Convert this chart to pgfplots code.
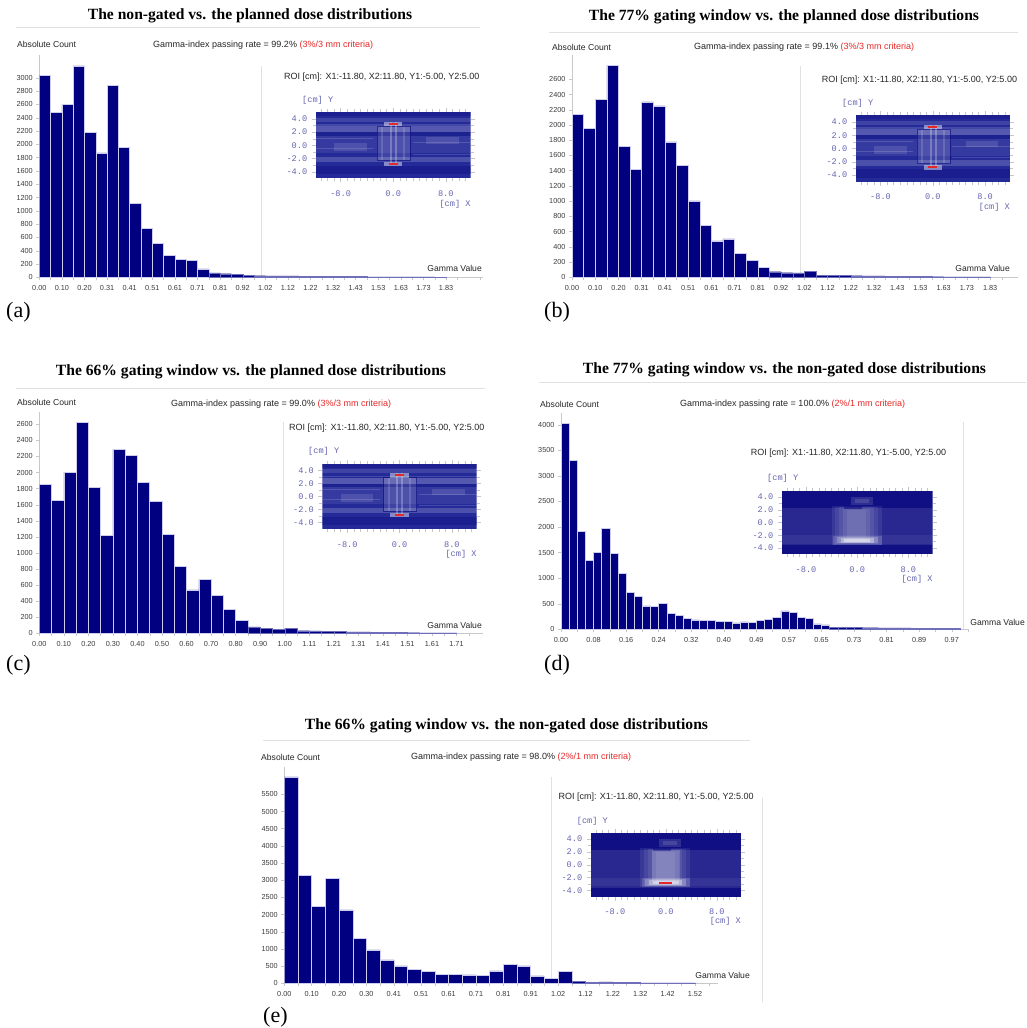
\documentclass[border=0pt]{standalone}
\usepackage{fontspec}
\setmainfont{Liberation Sans}
\newfontfamily\serif{Liberation Serif}
\newfontfamily\mono{Liberation Mono}
\usepackage{pgfplots}
\pgfplotsset{compat=1.18}
\definecolor{navy}{RGB}{0,0,128}
\definecolor{baredge}{RGB}{205,205,235}
\definecolor{tailedge}{RGB}{110,110,185}
\definecolor{axgray}{RGB}{200,200,200}
\definecolor{gline}{RGB}{225,225,225}
\definecolor{tlab}{RGB}{60,60,60}
\definecolor{critred}{RGB}{230,40,40}
\definecolor{insetblue}{RGB}{100,100,175}
\definecolor{heatbase}{RGB}{36,42,152}
\definecolor{heatdeep}{RGB}{16,16,132}

\pgfplotsset{
 hist/.style={scale only axis, anchor=south west, ybar, bar width=1,
   axis x line*=bottom, axis y line*=left,
   axis line style={draw=axgray, line width=0.5pt},
   xmin=0, ymin=0,
   tick align=outside, major tick length=3pt, minor tick length=3pt,
   tick style={draw=axgray, line width=0.4pt},
   tick label style={font=\fontsize{7.3}{8}\selectfont, text=tlab},
   xticklabel style={yshift=-2pt},
   scaled y ticks=false,
   /pgf/number format/1000 sep={},
   /pgf/number format/assume math mode=true,
 },
 bigbar/.style={fill=navy, draw=baredge, line width=0.5pt, bar shift=0pt},
 tailbar/.style={fill=navy, draw=tailedge, line width=0.25pt, bar shift=0pt},
 inset/.style={scale only axis, anchor=south west, xmin=-11.8, xmax=11.8, ymin=-5, ymax=5,
   axis line style={draw=none},
   xtick={-8,0,8}, xticklabels={-8.0,0.0,8.0},
   ytick={-4,-2,0,2,4}, yticklabels={-4.0,-2.0,0.0,2.0,4.0},
   minor xtick={-11,-10,-9,-7,-6,-5,-4,-3,-2,-1,1,2,3,4,5,6,7,9,10,11},
   minor ytick={-3,-1,1,3},
   tick pos=both, tick align=outside, major tick length=4pt, minor tick length=3pt,
   tick style={draw=gray!45, line width=0.4pt},
   tick label style={font=\mono\fontsize{8.6}{9}\selectfont, text=insetblue},
   xticklabel style={yshift=-5pt}, yticklabel style={xshift=-1pt},
 },
}
\newcommand\hrect[6]{\addplot[draw=none, fill=#2, fill opacity=#1, forget plot] coordinates {(#3,#5) (#4,#5) (#4,#6) (#3,#6)} --cycle;}
\newcommand\streaky{%
\hrect{1}{heatbase}{-11.8}{11.8}{-5}{5}
\hrect{.22}{white}{-11.8}{11.8}{2.0}{2.9}
\hrect{.12}{white}{-11.8}{11.8}{3.6}{4.2}
\hrect{.18}{white}{-11.8}{11.8}{-2.6}{-1.8}
\hrect{.08}{white}{-11.8}{11.8}{-1.2}{1.4}
\hrect{.45}{heatdeep}{-11.8}{11.8}{-4.4}{-3.1}
\hrect{.35}{heatdeep}{-11.8}{11.8}{4.4}{5}
\hrect{.3}{heatdeep}{-11.8}{11.8}{1.4}{2.0}
\hrect{.15}{white}{-11.8}{11.8}{3.0}{3.2}
\hrect{.15}{white}{-11.8}{-3}{1.0}{1.15}
\hrect{.15}{white}{3}{11.8}{0.3}{0.45}
\hrect{.15}{white}{-11.8}{-3}{-0.6}{-0.45}
\hrect{.15}{white}{3}{11.8}{-1.45}{-1.3}
\hrect{.12}{white}{-9}{-4}{-0.8}{0.4}
\hrect{.12}{white}{5}{10}{0.2}{1.2}
\hrect{.12}{white}{-2.4}{2.6}{-2.3}{2.9}
\addplot[draw=heatdeep, draw opacity=.7, line width=0.7pt, forget plot] coordinates {(-2.4,-2.3) (2.6,-2.3) (2.6,2.9) (-2.4,2.9)} --cycle;
\hrect{.15}{white}{-1.8}{-1.5}{-2.2}{2.8}
\hrect{.15}{white}{1.5}{1.8}{-2.2}{2.8}
\hrect{.25}{white}{-0.5}{-0.2}{-3}{3.6}
\hrect{.25}{white}{0.3}{0.6}{-3}{3.6}
\hrect{.45}{white}{-1.4}{1.4}{2.9}{3.6}
\hrect{.45}{white}{-1.4}{1.4}{-3.2}{-2.5}
\hrect{1}{critred}{-0.7}{0.7}{3.15}{3.45}
\hrect{1}{critred}{-0.7}{0.7}{-3.0}{-2.7}
}
\newcommand\glow{%
\hrect{1}{heatdeep}{-11.8}{11.8}{-5}{5}
\hrect{.10}{white}{-11.8}{11.8}{-3.6}{2.3}
\hrect{.06}{white}{-11.8}{11.8}{-3.4}{-2.0}
\hrect{.08}{white}{-4}{3.8}{-3.5}{2.6}
\hrect{.08}{white}{-3.4}{3.2}{-3.4}{2.5}
\hrect{.08}{white}{-2.8}{2.6}{-3.3}{2.4}
\hrect{.08}{white}{-2.2}{2.0}{-3.2}{2.2}
\hrect{.08}{white}{-1.6}{1.4}{-3.1}{2.0}
\hrect{.15}{white}{-3.8}{3.8}{-3.5}{-2.1}
\hrect{.2}{white}{-3.2}{3.2}{-3.3}{-2.3}
\hrect{.3}{white}{-2.6}{2.6}{-3.15}{-2.45}
\hrect{.4}{white}{-2.0}{2.0}{-3.0}{-2.6}
\hrect{.6}{heatdeep}{-2.0}{0.8}{2.2}{2.7}
\hrect{.12}{white}{-1}{2.4}{2.8}{4.0}
\hrect{.12}{white}{-0.4}{1.8}{3.1}{3.7}
}
\begin{document}
\begin{tikzpicture}
\useasboundingbox (0pt,0pt) rectangle (1026pt,-1028pt);
\fill[white] (0pt,0pt) rectangle (1026pt,-1028pt);
% ---------- titles ----------
\begin{scope}[every node/.style={font=\serif\bfseries\fontsize{15.6}{18}\selectfont, inner sep=0}]
\node at (250pt,-16pt) {The non-gated vs. the planned dose distributions};
\node at (784pt,-17pt) {The 77\% gating window vs. the planned dose distributions};
\node at (251pt,-372pt) {The 66\% gating window vs. the planned dose distributions};
\node at (784.5pt,-370pt) {The 77\% gating window vs. the non-gated dose distributions};
\node at (506.5pt,-726pt) {The 66\% gating window vs. the non-gated dose distributions};
\end{scope}
\begin{scope}[draw=gline, line width=0.8pt]
\draw (16pt,-27pt) -- (480pt,-27pt);
\draw (549pt,-32pt) -- (1018pt,-32pt);
\draw (16pt,-388pt) -- (485pt,-388pt);
\draw (539pt,-382pt) -- (1026pt,-382pt);
\draw (263pt,-740pt) -- (750pt,-740pt);
\draw (762pt,-798pt) -- (762pt,-1002pt);
\end{scope}
% ---------- small labels ----------
\begin{scope}[every node/.style={font=\fontsize{8.6}{10}\selectfont, inner sep=0, text=black!85}]
\node[anchor=west] at (17pt,-44pt) {Absolute Count};
\node[anchor=west] at (552pt,-47pt) {Absolute Count};
\node[anchor=west] at (17pt,-402pt) {Absolute Count};
\node[anchor=west] at (540pt,-404pt) {Absolute Count};
\node[anchor=west] at (261pt,-757pt) {Absolute Count};
\node[anchor=east] at (482pt,-268pt) {Gamma Value};
\node[anchor=east] at (1010pt,-268pt) {Gamma Value};
\node[anchor=east] at (482pt,-625pt) {Gamma Value};
\node[anchor=east] at (1025pt,-622pt) {Gamma Value};
\node[anchor=east] at (750pt,-975pt) {Gamma Value};
\end{scope}
\begin{scope}[every node/.style={font=\fontsize{9}{10}\selectfont, inner sep=0, text=black!85}]
\node[anchor=west] at (153pt,-45pt) {Gamma-index passing rate = 99.2\% {\color{critred}(3\%/3 mm criteria)}};
\node[anchor=west] at (694pt,-47pt) {Gamma-index passing rate = 99.1\% {\color{critred}(3\%/3 mm criteria)}};
\node[anchor=west] at (171pt,-404pt) {Gamma-index passing rate = 99.0\% {\color{critred}(3\%/3 mm criteria)}};
\node[anchor=west] at (680pt,-404pt) {Gamma-index passing rate = 100.0\% {\color{critred}(2\%/1 mm criteria)}};
\node[anchor=west] at (411pt,-757pt) {Gamma-index passing rate = 98.0\% {\color{critred}(2\%/1 mm criteria)}};
\node[anchor=west] at (284pt,-77pt) {ROI [cm]: X1:-11.80, X2:11.80, Y1:-5.00, Y2:5.00};
\node[anchor=west] at (821.7pt,-80pt) {ROI [cm]: X1:-11.80, X2:11.80, Y1:-5.00, Y2:5.00};
\node[anchor=west] at (289pt,-428.3pt) {ROI [cm]: X1:-11.80, X2:11.80, Y1:-5.00, Y2:5.00};
\node[anchor=west] at (750.7pt,-452.7pt) {ROI [cm]: X1:-11.80, X2:11.80, Y1:-5.00, Y2:5.00};
\node[anchor=west] at (558.3pt,-796.7pt) {ROI [cm]: X1:-11.80, X2:11.80, Y1:-5.00, Y2:5.00};
\end{scope}
\begin{scope}[every node/.style={font=\mono\fontsize{8.6}{9}\selectfont, inner sep=0, text=insetblue}]
\node[anchor=west] at (302pt,-100pt) {[cm] Y};
\node[anchor=east] at (470.7pt,-204pt) {[cm] X};
\node[anchor=west] at (842pt,-103pt) {[cm] Y};
\node[anchor=east] at (1010pt,-207pt) {[cm] X};
\node[anchor=west] at (308pt,-451.7pt) {[cm] Y};
\node[anchor=east] at (476.7pt,-554pt) {[cm] X};
\node[anchor=west] at (767pt,-478.7pt) {[cm] Y};
\node[anchor=east] at (932.7pt,-579pt) {[cm] X};
\node[anchor=west] at (576.7pt,-821pt) {[cm] Y};
\node[anchor=east] at (741pt,-921.7pt) {[cm] X};
\end{scope}
\begin{scope}[every node/.style={font=\serif\fontsize{22}{24}\selectfont, inner sep=0, anchor=west}]
\node at (6pt,-312pt) {(a)};
\node at (544pt,-312pt) {(b)};
\node at (6pt,-665pt) {(c)};
\node at (544pt,-665pt) {(d)};
\node at (263pt,-1017pt) {(e)};
\end{scope}
% ---------- (a) ----------
\begin{axis}[hist, at={(39.3pt,-277.3pt)}, width=443.7pt, height=222.3pt, xmax=39.27, ymax=3343,
  ytick={0,200,...,3000},
  xtick={0,2,...,36}, minor xtick={1,3,...,39},
  xticklabels={0.00,0.10,0.20,0.31,0.41,0.51,0.61,0.71,0.81,0.92,1.02,1.12,1.22,1.32,1.43,1.53,1.63,1.73,1.83}]
\addplot[sharp plot, draw=gline, line width=0.8pt, forget plot] coordinates {(19.62,0) (19.62,3177)};
\addplot[bigbar] coordinates {(0.5,3040) (1.5,2480) (2.5,2600) (3.5,3180) (4.5,2175) (5.5,1870) (6.5,2885) (7.5,1950) (8.5,1107) (9.5,731) (10.5,511) (11.5,330) (12.5,270) (13.5,250) (14.5,125)};
\addplot[tailbar] coordinates {(15.5,68) (16.5,55) (17.5,42) (18.5,32) (19.5,25) (20.5,22) (21.5,21) (22.5,20) (23.5,19) (24.5,18) (25.5,17) (26.5,16) (27.5,15) (28.5,15) (29.5,8) (30.5,7) (31.5,6) (32.5,6) (33.5,5) (34.5,5) (35.5,4)};
\end{axis}
\begin{axis}[inset, at={(315.7pt,-178.3pt)}, width=155pt, height=66pt]
\streaky
\end{axis}
% ---------- (b) ----------
\begin{axis}[hist, at={(572pt,-277.3pt)}, width=446pt, height=222.3pt, xmax=38.4, ymax=2919,
  ytick={0,200,...,2600},
  xtick={0,2,...,36}, minor xtick={1,3,...,37},
  xticklabels={0.00,0.10,0.20,0.31,0.41,0.51,0.61,0.71,0.81,0.92,1.02,1.12,1.22,1.32,1.43,1.53,1.63,1.73,1.83}]
\addplot[sharp plot, draw=gline, line width=0.8pt, forget plot] coordinates {(19.7,0) (19.7,2775)};
\addplot[bigbar] coordinates {(0.5,2140) (1.5,1956) (2.5,2337) (3.5,2783) (4.5,1720) (5.5,1418) (6.5,2302) (7.5,2250) (8.5,1777) (9.5,1466) (10.5,1002) (11.5,678) (12.5,477) (13.5,503) (14.5,311) (15.5,223) (16.5,131)};
\addplot[tailbar] coordinates {(17.5,74) (18.5,61) (19.5,57) (20.5,79) (21.5,30) (22.5,26) (23.5,24) (24.5,22) (25.5,20) (26.5,18) (27.5,16) (28.5,15) (29.5,10) (30.5,9) (31.5,8) (32.5,7) (33.5,6) (34.5,5) (35.5,4)};
\end{axis}
\begin{axis}[inset, at={(855.7pt,-181.7pt)}, width=154.3pt, height=66.4pt]
\streaky
\end{axis}
% ---------- (c) ----------
\begin{axis}[hist, at={(39.3pt,-633.3pt)}, width=443.7pt, height=221.6pt, xmax=36.16, ymax=2757,
  ytick={0,200,...,2600},
  xtick={0,2,...,34}, minor xtick={1,3,...,35},
  xticklabels={0.00,0.10,0.20,0.30,0.40,0.50,0.60,0.70,0.80,0.90,1.00,1.11,1.21,1.31,1.41,1.51,1.61,1.71}]
\addplot[sharp plot, draw=gline, line width=0.8pt, forget plot] coordinates {(19.89,0) (19.89,2629)};
\addplot[bigbar] coordinates {(0.5,1853) (1.5,1658) (2.5,2002) (3.5,2624) (4.5,1812) (5.5,1215) (6.5,2289) (7.5,2218) (8.5,1874) (9.5,1638) (10.5,1231) (11.5,837) (12.5,539) (13.5,667) (14.5,468) (15.5,294) (16.5,162)};
\addplot[tailbar] coordinates {(17.5,79) (18.5,62) (19.5,50) (20.5,62) (21.5,33) (22.5,29) (23.5,25) (24.5,25) (25.5,18) (26.5,17) (27.5,13) (28.5,11) (29.5,10) (30.5,7) (31.5,6) (32.5,5) (33.5,4)};
\end{axis}
\begin{axis}[inset, at={(322.3pt,-529pt)}, width=154.4pt, height=65pt]
\streaky
\end{axis}
% ---------- (d) ----------
\begin{axis}[hist, at={(561pt,-629.3pt)}, width=407.3pt, height=216pt, xmax=50.04, ymax=4223,
  ytick={0,500,...,4000},
  xtick={0,4,...,48}, minor xtick={2,6,...,50},
  xticklabels={0.00,0.08,0.16,0.24,0.32,0.40,0.49,0.57,0.65,0.73,0.81,0.89,0.97}]
\addplot[sharp plot, draw=gline, line width=0.8pt, forget plot] coordinates {(49.4,0) (49.4,4059)};
\addplot[bigbar] coordinates {(0.5,4020) (1.5,3303) (2.5,1915) (3.5,1355) (4.5,1498) (5.5,1980) (6.5,1485) (7.5,1094) (8.5,723) (9.5,638) (10.5,456) (11.5,443) (12.5,508) (13.5,306) (14.5,274) (15.5,221) (16.5,182) (17.5,170) (18.5,170) (19.5,150) (20.5,156) (21.5,124) (22.5,143) (23.5,130) (24.5,170) (25.5,195) (26.5,235) (27.5,358) (28.5,332) (29.5,228) (30.5,208) (31.5,104) (32.5,85)};
\addplot[tailbar] coordinates {(33.5,36) (34.5,34) (35.5,33) (36.5,33) (37.5,32) (38.5,32) (39.5,30) (40.5,30) (41.5,29) (42.5,27) (43.5,25) (44.5,23) (45.5,20) (46.5,18) (47.5,16) (48.5,14)};
\end{axis}
\begin{axis}[inset, at={(781.7pt,-554.3pt)}, width=151pt, height=63.6pt]
\glow
\end{axis}
% ---------- (e) ----------
\begin{axis}[hist, at={(284.3pt,-983.3pt)}, width=433.7pt, height=216.6pt, xmax=31.68, ymax=6304,
  ytick={0,500,...,5500},
  xtick={0,2,...,30}, minor xtick={1,3,...,31},
  xticklabels={0.00,0.10,0.20,0.30,0.41,0.51,0.61,0.71,0.81,0.91,1.02,1.12,1.22,1.32,1.42,1.52}]
\addplot[sharp plot, draw=gline, line width=0.8pt, forget plot] coordinates {(19.53,0) (19.53,6004)};
\addplot[bigbar] coordinates {(0.5,6010) (1.5,3133) (2.5,2231) (3.5,3046) (4.5,2134) (5.5,1300) (6.5,970) (7.5,679) (8.5,504) (9.5,407) (10.5,339) (11.5,262) (12.5,252) (13.5,242) (14.5,233) (15.5,359) (16.5,543) (17.5,504) (18.5,213) (19.5,136) (20.5,340)};
\addplot[tailbar] coordinates {(21.5,58) (22.5,25) (23.5,45) (24.5,25) (25.5,25) (26.5,15) (27.5,12) (28.5,12) (29.5,10)};
\end{axis}
\begin{axis}[inset, at={(590.7pt,-896.7pt)}, width=150.3pt, height=64pt]
\glow
\hrect{.15}{white}{-2.2}{2.2}{-2.5}{2.3}
\hrect{1}{critred}{-1}{1}{-2.95}{-2.7}
\end{axis}
\end{tikzpicture}
\end{document}
